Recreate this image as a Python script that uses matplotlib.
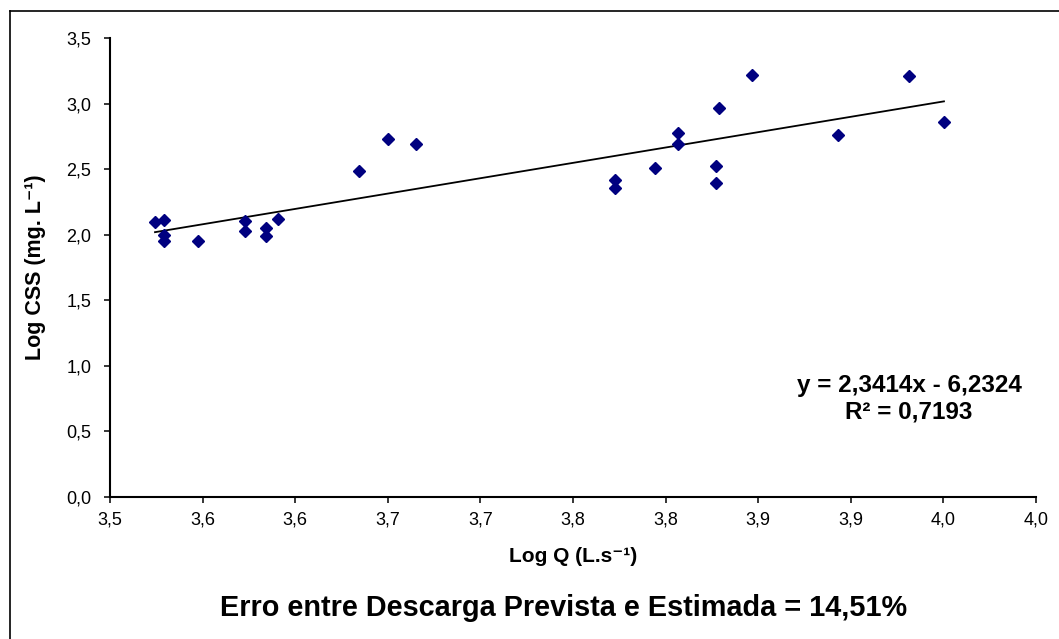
import matplotlib
matplotlib.use('Agg')
import matplotlib.pyplot as plt
from matplotlib.lines import Line2D
import numpy as np

plt.rcParams['font.family'] = ['Liberation Sans', 'DejaVu Sans']

# Log Q (L.s-1) and Log CSS (mg. L-1)
log_q = [3.5243, 3.5292, 3.5292, 3.5292, 3.5474, 3.5727, 3.5727, 3.5841, 3.5841,
         3.5909, 3.6345, 3.6501, 3.6652, 3.7727, 3.7727, 3.7943, 3.8065, 3.8065,
         3.8272, 3.8272, 3.8288, 3.8468, 3.8929, 3.9314, 3.9503]
log_css = [2.100, 2.113, 1.998, 1.953, 1.953, 2.105, 2.029, 2.054, 1.991,
           2.120, 2.489, 2.728, 2.693, 2.418, 2.355, 2.507, 2.774, 2.693,
           2.525, 2.397, 2.970, 3.219, 2.761, 3.211, 2.860]

# linear trend shown on the chart
slope = 2.3414
intercept = -6.2324

x_ticks = [3.50, 3.55, 3.60, 3.65, 3.70, 3.75, 3.80, 3.85, 3.90, 3.95, 4.00]
x_tick_labels = ['3,5', '3,6', '3,6', '3,7', '3,7', '3,8', '3,8', '3,9', '3,9', '4,0', '4,0']
y_ticks = [0.0, 0.5, 1.0, 1.5, 2.0, 2.5, 3.0, 3.5]
y_tick_labels = ['0,0', '0,5', '1,0', '1,5', '2,0', '2,5', '3,0', '3,5']

fig = plt.figure(figsize=(10.59, 6.39), dpi=100)
ax = fig.add_axes([110 / 1059, 1 - 497 / 639, 926 / 1059, 459 / 639])

ax.plot(log_q, log_css, linestyle='none', marker='D', markersize=5.8,
        color='#000080', markeredgecolor='#000080', zorder=3)

x_fit = np.array([min(log_q), max(log_q)])
ax.plot(x_fit, slope * x_fit + intercept, color='black', linewidth=1.3, zorder=2)

ax.set_xlim(3.50, 4.00)
ax.set_ylim(0, 3.5)
ax.set_xticks(x_ticks)
ax.set_xticklabels(x_tick_labels)
ax.set_yticks(y_ticks)
ax.set_yticklabels(y_tick_labels)

for side in ['top', 'right']:
    ax.spines[side].set_visible(False)
for side in ['left', 'bottom']:
    ax.spines[side].set_linewidth(1.5)
ax.tick_params(axis='both', direction='out', length=4.5, width=1.1, labelsize=13)
ax.tick_params(axis='x', pad=6)
ax.tick_params(axis='y', pad=9)

ax.set_xlabel('Log Q (L.s⁻¹)', fontsize=15, fontweight='bold', va='center')
ax.set_ylabel('Log CSS (mg. L⁻¹)', fontsize=15.5, fontweight='bold', va='center')
ax.xaxis.set_label_coords((573 - 110) / 926, (497 - 557) / 459)
ax.yaxis.set_label_coords((36 - 110) / 926, 0.5)

ax.text((909 - 110) / 926, (497 - 399) / 459, 'y = 2,3414x - 6,2324\nR² = 0,7193',
        transform=ax.transAxes, ha='center', va='center', fontsize=17.5,
        fontweight='bold', linespacing=1.2)

fig.text(564 / 1059, 1 - 608 / 639, 'Erro entre Descarga Prevista e Estimada = 14,51%',
         ha='center', va='center', fontsize=20.8, fontweight='bold')

# outer frame (top and left edges visible)
fig.add_artist(Line2D([10 / 1059, 1], [1 - 11 / 639, 1 - 11 / 639],
                      transform=fig.transFigure, color='black', linewidth=1.2))
fig.add_artist(Line2D([10 / 1059, 10 / 1059], [0, 1 - 11 / 639],
                      transform=fig.transFigure, color='black', linewidth=1.2))

fig.savefig('out.png', dpi=100, facecolor='white')
